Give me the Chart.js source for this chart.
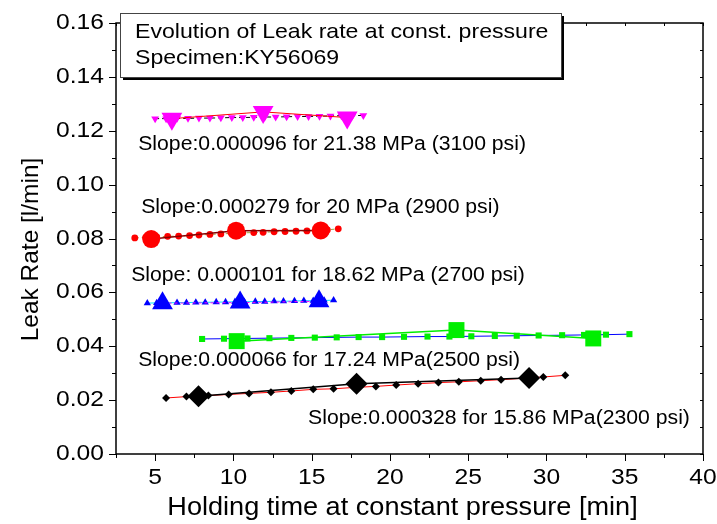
<!DOCTYPE html>
<html>
<head>
<meta charset="utf-8">
<script src="https://cdn.jsdelivr.net/npm/chart.js@4.4.1/dist/chart.umd.min.js"></script>
<style>
  html, body { margin: 0; padding: 0; background: #fff; }
  #wrap { width: 717px; height: 524px; position: relative; }
</style>
</head>
<body>
<div id="wrap"><canvas id="leakChart" width="717" height="524"></canvas></div>
<script>
// 21.38 MPa (3100 psi) - magenta inverted triangles
const magT = [5.0, 5.7, 6.4, 7.1, 7.8, 8.5, 9.2, 9.9, 10.6, 11.3, 12.0, 12.7, 13.4, 14.1, 14.8, 15.5, 16.2, 16.9, 17.6, 18.3];
const magY = [0.1245, 0.1245, 0.1246, 0.1246, 0.1247, 0.1247, 0.1248, 0.1249, 0.1249, 0.1250, 0.1251, 0.1251, 0.1252, 0.1253, 0.1253, 0.1254, 0.1255, 0.1256, 0.1256, 0.1257];
const magBigT = [6.07, 11.9, 17.27];
const magBigY = [0.1245, 0.1270, 0.1249];

// 20 MPa (2900 psi) - red circles
const redT = [3.7, 4.4, 5.1, 5.8, 6.5, 7.2, 7.8, 8.5, 9.2, 9.9, 10.6, 11.3, 11.9, 12.6, 13.3, 14.0, 14.7, 15.3, 16.0, 16.7];
const redY = [0.0802, 0.0804, 0.0806, 0.0808, 0.0809, 0.0811, 0.0813, 0.0815, 0.0817, 0.0819, 0.0821, 0.0822, 0.0823, 0.0825, 0.0826, 0.0827, 0.0828, 0.0830, 0.0832, 0.0836];
const redBigT = [4.75, 10.17, 15.58];
const redBigY = [0.0798, 0.0829, 0.0830];

// 18.62 MPa (2700 psi) - blue triangles
const blueT = [4.5, 5.1, 5.7, 6.4, 7.0, 7.6, 8.2, 8.9, 9.5, 10.1, 10.7, 11.4, 12.0, 12.6, 13.2, 13.9, 14.5, 15.1, 15.8, 16.4];
const blueY = [0.0560, 0.0561, 0.0561, 0.0562, 0.0562, 0.0563, 0.0563, 0.0564, 0.0564, 0.0565, 0.0565, 0.0566, 0.0566, 0.0567, 0.0567, 0.0568, 0.0569, 0.0569, 0.0570, 0.0571];
const blueBigT = [5.47, 10.43, 15.47];
const blueBigY = [0.0560, 0.0562, 0.0567];

// 17.24 MPa (2500 psi) - green squares
const greenT = [8.0, 9.4, 10.9, 12.3, 13.7, 15.2, 16.6, 18.0, 19.5, 20.9, 22.4, 23.8, 25.2, 26.7, 28.1, 29.5, 31.0, 32.4, 33.8, 35.3];
const greenY = [0.0427, 0.0428, 0.0429, 0.0430, 0.0431, 0.0432, 0.0433, 0.0434, 0.0434, 0.0435, 0.0436, 0.0436, 0.0437, 0.0438, 0.0439, 0.0440, 0.0441, 0.0442, 0.0443, 0.0445];
const greenBigT = [10.21, 24.25, 32.99];
const greenBigY = [0.0419, 0.0460, 0.0429];

// 15.86 MPa (2300 psi) - black diamonds
const blackT = [5.7, 7.0, 8.4, 9.7, 11.0, 12.4, 13.7, 15.1, 16.4, 17.7, 19.1, 20.4, 21.8, 23.1, 24.4, 25.8, 27.1, 28.5, 29.8, 31.2];
const blackY = [0.0208, 0.0213, 0.0217, 0.0221, 0.0225, 0.0229, 0.0234, 0.0240, 0.0242, 0.0247, 0.0251, 0.0256, 0.0261, 0.0265, 0.0268, 0.0272, 0.0276, 0.0281, 0.0286, 0.0292];
const blackBigT = [7.77, 17.87, 28.89];
const blackBigY = [0.0214, 0.0261, 0.0282];

const xTickLabels = ["5", "10", "15", "20", "25", "30", "35", "40"];
const yTickLabels = ["0.00", "0.02", "0.04", "0.06", "0.08", "0.10", "0.12", "0.14", "0.16"];
const slopeLabels = [
  "Slope:0.000096 for 21.38 MPa (3100 psi)",
  "Slope:0.000279 for 20 MPa (2900 psi)",
  "Slope: 0.000101 for 18.62 MPa (2700 psi)",
  "Slope:0.000066 for 17.24 MPa(2500 psi)",
  "Slope:0.000328 for 15.86 MPa(2300 psi)"
];
const titleLines = ["Evolution of Leak rate at const. pressure", "Specimen:KY56069"];
const xTitle = "Holding time at constant pressure [min]";
const yTitle = "Leak Rate [l/min]";

const FONT = "'Liberation Sans', Arial, Helvetica, sans-serif";

function pts(xs, ys) {
  return xs.map((x, i) => ({ x: x, y: ys[i] }));
}

function small(xs, ys, color, style, r, lineColor, dash, rot) {
  return {
    data: pts(xs, ys), showLine: true, order: 1,
    borderColor: lineColor, borderWidth: 1, borderDash: dash,
    pointStyle: style, pointRadius: r, pointRotation: rot || 0,
    pointBackgroundColor: color, pointBorderColor: color, pointBorderWidth: 0
  };
}
function big(xs, ys, color, style, r, lineColor, width, dash, rot) {
  return {
    data: pts(xs, ys), showLine: true, order: 0,
    borderColor: lineColor, borderWidth: width, borderDash: dash,
    pointStyle: style, pointRadius: r, pointRotation: rot || 0,
    pointBackgroundColor: color, pointBorderColor: color, pointBorderWidth: 0
  };
}

// text drawn slightly wider than the font, like the original export
function stretchText(ctx, text, x, y, size, sx, align, baseline, angle) {
  ctx.save();
  ctx.translate(x, y);
  if (angle) ctx.rotate(angle);
  ctx.scale(sx, 1);
  ctx.font = size + "px " + FONT;
  ctx.textAlign = align;
  ctx.textBaseline = baseline;
  ctx.fillStyle = "#000";
  ctx.fillText(text, 0, 0);
  ctx.restore();
}

// frame, ticks, labels, title box and slope notes
const decor = {
  id: "decor",
  afterDraw(chart) {
    const ctx = chart.ctx;
    const { left, right, top, bottom } = chart.chartArea;
    const xs = chart.scales.x, ys = chart.scales.y;
    ctx.save();
    ctx.strokeStyle = "#000";
    ctx.lineWidth = 1.5;
    ctx.strokeRect(left, top, right - left, bottom - top);
    ctx.lineWidth = 1;
    ctx.beginPath();
    for (let v = 0; v <= 16; v++) {
      const y = Math.round(ys.getPixelForValue(v / 100)) + 0.5;
      const len = v % 2 === 0 ? 7 : 4;
      ctx.moveTo(left, y); ctx.lineTo(left - len, y);
      ctx.moveTo(right, y); ctx.lineTo(right - 3, y);
    }
    for (let v = 1; v <= 16; v++) {
      const x = Math.round(xs.getPixelForValue(v * 2.5)) + 0.5;
      const len = v % 2 === 0 ? 7 : 4;
      ctx.moveTo(x, bottom); ctx.lineTo(x, bottom + len);
      ctx.moveTo(x, top); ctx.lineTo(x, top + 3);
    }
    ctx.stroke();

    yTickLabels.forEach((lab) => {
      stretchText(ctx, lab, 104, ys.getPixelForValue(parseFloat(lab)), 22, 1.12, "right", "middle");
    });
    xTickLabels.forEach((lab) => {
      stretchText(ctx, lab, xs.getPixelForValue(parseFloat(lab)), 478, 22, 1.12, "center", "middle");
    });
    stretchText(ctx, xTitle, (left + right) / 2 - 7, 515, 25, 1.085, "center", "alphabetic");
    stretchText(ctx, yTitle, 38, (top + bottom) / 2 + 11, 24, 1.02, "center", "alphabetic", -Math.PI / 2);

    // title box with shadow
    ctx.fillStyle = "#000";
    ctx.fillRect(123, 16, 441, 64);
    ctx.fillStyle = "#fff";
    ctx.fillRect(120, 13, 441, 64);
    ctx.strokeStyle = "#444";
    ctx.lineWidth = 1;
    ctx.strokeRect(120.5, 13.5, 441, 64);
    stretchText(ctx, titleLines[0], 135, 32, 21, 1.1, "left", "middle");
    stretchText(ctx, titleLines[1], 135, 58, 21, 1.1, "left", "middle");

    // slope notes, placed in data coordinates
    const notes = [[3.92, 0.1148], [4.11, 0.0914], [3.47, 0.0662], [3.92, 0.0346], [14.77, 0.0131]];
    notes.forEach((n, i) => {
      stretchText(ctx, slopeLabels[i], xs.getPixelForValue(n[0]), ys.getPixelForValue(n[1]), 20, 1.06, "left", "middle");
    });
    ctx.restore();
  }
};

new Chart(document.getElementById("leakChart"), {
  type: "scatter",
  data: {
    datasets: [
      small(magT, magY, "#ff00ff", "triangle", 4.5, "#000", [4, 3], 180),
      big(magBigT, magBigY, "#ff00ff", "triangle", 12, "#ff0000", 1, [], 180),
      small(redT, redY, "#ff0000", "circle", 3.4, "#a0a040", [4, 3]),
      big(redBigT, redBigY, "#ff0000", "circle", 9, "#8b0000", 1.5, []),
      small(blueT, blueY, "#0000ff", "triangle", 4.2, "#00e0ff", [], 0),
      big(blueBigT, blueBigY, "#0000ff", "triangle", 12, "#ff00ff", 1, [3, 3], 0),
      small(greenT, greenY, "#00ee00", "rect", 4.3, "#0000ff", []),
      big(greenBigT, greenBigY, "#00ee00", "rect", 11.3, "#00ee00", 1.5, []),
      small(blackT, blackY, "#000", "rectRot", 4, "#ff0000", []),
      big(blackBigT, blackBigY, "#000", "rectRot", 11, "#000", 1.5, [])
    ]
  },
  options: {
    responsive: false,
    animation: false,
    layout: { padding: { top: 23, right: 14, left: 0, bottom: 0 } },
    plugins: { legend: { display: false }, tooltip: { enabled: false } },
    scales: {
      x: {
        type: "linear", min: 2.5, max: 40,
        afterFit: (s) => { s.height = 70; s.paddingLeft = 0; s.paddingRight = 0; },
        grid: { display: false, drawTicks: false },
        border: { display: false },
        ticks: { display: false, stepSize: 2.5 }
      },
      y: {
        type: "linear", min: 0, max: 0.16,
        afterFit: (s) => { s.width = 116; s.paddingTop = 0; s.paddingBottom = 0; },
        grid: { display: false, drawTicks: false },
        border: { display: false },
        ticks: { display: false, stepSize: 0.01 }
      }
    }
  },
  plugins: [decor]
});
</script>
</body>
</html>
